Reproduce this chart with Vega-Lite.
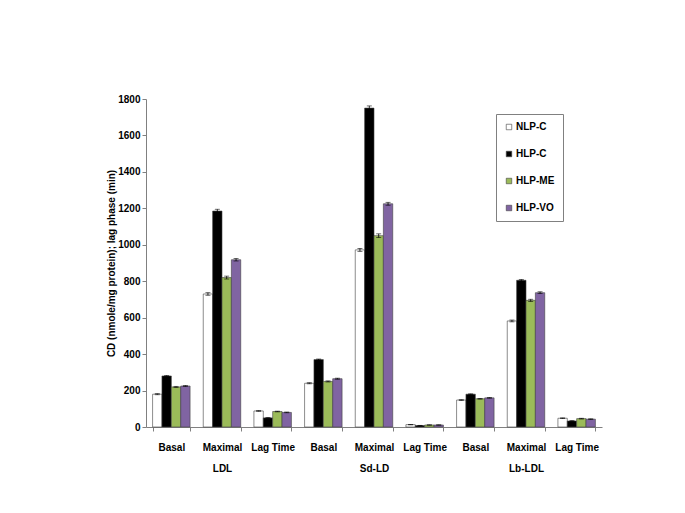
{
  "$schema": "https://vega.github.io/schema/vega-lite/v6.json",
  "autosize": "none",
  "width": 456,
  "height": 328,
  "padding": {"left": 146, "top": 99, "right": 83, "bottom": 86},
  "background": "white",
  "config": {
    "view": {"stroke": null},
    "font": "Liberation Sans",
    "axis": {"labelFont": "Liberation Sans", "labelFontWeight": "bold", "labelFontSize": 10, "labelColor": "#000", "titleFont": "Liberation Sans", "titleFontWeight": "bold", "titleFontSize": 10, "titleColor": "#000", "domainColor": "#808080", "tickColor": "#808080", "grid": false},
    "axisY": {"labelOverlap": false, "values": [0, 200, 400, 600, 800, 1000, 1200, 1400, 1600, 1800], "format": "d", "tickSize": 4, "labelPadding": 2, "titlePadding": 1}
  },
  "data": {"values": [
    {"key": "LDL|Basal", "group": "NLP-C", "value": 180, "lo": 177, "hi": 183},
    {"key": "LDL|Basal", "group": "HLP-C", "value": 280, "lo": 277, "hi": 283},
    {"key": "LDL|Basal", "group": "HLP-ME", "value": 220, "lo": 217, "hi": 223},
    {"key": "LDL|Basal", "group": "HLP-VO", "value": 225, "lo": 222, "hi": 228},
    {"key": "LDL|Maximal", "group": "NLP-C", "value": 730, "lo": 723, "hi": 737},
    {"key": "LDL|Maximal", "group": "HLP-C", "value": 1185, "lo": 1175, "hi": 1195},
    {"key": "LDL|Maximal", "group": "HLP-ME", "value": 820, "lo": 812, "hi": 828},
    {"key": "LDL|Maximal", "group": "HLP-VO", "value": 918, "lo": 911, "hi": 925},
    {"key": "LDL|Lag Time", "group": "NLP-C", "value": 88, "lo": 86, "hi": 90},
    {"key": "LDL|Lag Time", "group": "HLP-C", "value": 50, "lo": 48, "hi": 52},
    {"key": "LDL|Lag Time", "group": "HLP-ME", "value": 85, "lo": 83, "hi": 87},
    {"key": "LDL|Lag Time", "group": "HLP-VO", "value": 80, "lo": 78, "hi": 82},
    {"key": "Sd-LD|Basal", "group": "NLP-C", "value": 240, "lo": 237, "hi": 243},
    {"key": "Sd-LD|Basal", "group": "HLP-C", "value": 370, "lo": 367, "hi": 373},
    {"key": "Sd-LD|Basal", "group": "HLP-ME", "value": 250, "lo": 247, "hi": 253},
    {"key": "Sd-LD|Basal", "group": "HLP-VO", "value": 265, "lo": 262, "hi": 268},
    {"key": "Sd-LD|Maximal", "group": "NLP-C", "value": 972, "lo": 964, "hi": 980},
    {"key": "Sd-LD|Maximal", "group": "HLP-C", "value": 1750, "lo": 1738, "hi": 1762},
    {"key": "Sd-LD|Maximal", "group": "HLP-ME", "value": 1050, "lo": 1040, "hi": 1060},
    {"key": "Sd-LD|Maximal", "group": "HLP-VO", "value": 1225, "lo": 1217, "hi": 1233},
    {"key": "Sd-LD|Lag Time", "group": "NLP-C", "value": 13, "lo": 12, "hi": 14},
    {"key": "Sd-LD|Lag Time", "group": "HLP-C", "value": 8, "lo": 7, "hi": 9},
    {"key": "Sd-LD|Lag Time", "group": "HLP-ME", "value": 11, "lo": 10, "hi": 12},
    {"key": "Sd-LD|Lag Time", "group": "HLP-VO", "value": 11, "lo": 10, "hi": 12},
    {"key": "Lb-LDL|Basal", "group": "NLP-C", "value": 148, "lo": 146, "hi": 150},
    {"key": "Lb-LDL|Basal", "group": "HLP-C", "value": 180, "lo": 178, "hi": 182},
    {"key": "Lb-LDL|Basal", "group": "HLP-ME", "value": 155, "lo": 153, "hi": 157},
    {"key": "Lb-LDL|Basal", "group": "HLP-VO", "value": 160, "lo": 158, "hi": 162},
    {"key": "Lb-LDL|Maximal", "group": "NLP-C", "value": 582, "lo": 577, "hi": 587},
    {"key": "Lb-LDL|Maximal", "group": "HLP-C", "value": 805, "lo": 800, "hi": 810},
    {"key": "Lb-LDL|Maximal", "group": "HLP-ME", "value": 695, "lo": 689, "hi": 701},
    {"key": "Lb-LDL|Maximal", "group": "HLP-VO", "value": 737, "lo": 732, "hi": 742},
    {"key": "Lb-LDL|Lag Time", "group": "NLP-C", "value": 48, "lo": 46, "hi": 50},
    {"key": "Lb-LDL|Lag Time", "group": "HLP-C", "value": 33, "lo": 31, "hi": 35},
    {"key": "Lb-LDL|Lag Time", "group": "HLP-ME", "value": 46, "lo": 44, "hi": 48},
    {"key": "Lb-LDL|Lag Time", "group": "HLP-VO", "value": 43, "lo": 41, "hi": 45}
  ]},
  "encoding": {
    "x": {
      "field": "key", "type": "nominal",
      "sort": ["LDL|Basal", "LDL|Maximal", "LDL|Lag Time", "Sd-LD|Basal", "Sd-LD|Maximal", "Sd-LD|Lag Time", "Lb-LDL|Basal", "Lb-LDL|Maximal", "Lb-LDL|Lag Time"],
      "scale": {"paddingInner": 0.26, "paddingOuter": 0.13},
      "axis": {
        "title": null, "labelAngle": 0, "tickBand": "extent", "tickSize": 4, "labelPadding": 11,
        "labelBaseline": "top", "labelLineHeight": 21,
        "labelExpr": "split(datum.value,'|')[1] == 'Maximal' ? [split(datum.value,'|')[1], split(datum.value,'|')[0]] : split(datum.value,'|')[1]"
      }
    },
    "xOffset": {"field": "group", "type": "nominal", "sort": ["NLP-C", "HLP-C", "HLP-ME", "HLP-VO"]}
  },
  "layer": [
    {
      "mark": {"type": "bar", "stroke": "#404040", "strokeWidth": 0.6},
      "encoding": {
        "y": {"field": "value", "type": "quantitative", "scale": {"domain": [0, 1800], "nice": false},
          "axis": {"title": "CD (nmole/mg protein); lag phase (min)"}},
        "fill": {"field": "group", "type": "nominal", "sort": ["NLP-C", "HLP-C", "HLP-ME", "HLP-VO"],
          "scale": {"domain": ["NLP-C", "HLP-C", "HLP-ME", "HLP-VO"], "range": ["#ffffff", "#000000", "#9bbb59", "#8064a2"]},
          "legend": {"title": null, "orient": "none", "legendX": 350, "legendY": 15, "symbolType": "square", "symbolSize": 30, "symbolStrokeColor": "#404040", "symbolStrokeWidth": 0.6, "labelFont": "Liberation Sans", "labelFontWeight": "bold", "labelFontSize": 10, "labelColor": "#000", "rowPadding": 17, "padding": 8, "strokeColor": "#808080", "fillColor": "#ffffff", "labelOffset": 2, "columnPadding": 10}}
      }
    },
    {
      "mark": {"type": "rule", "color": "#000", "strokeWidth": 0.8},
      "encoding": {"y": {"field": "lo", "type": "quantitative", "axis": {"title": "CD (nmole/mg protein); lag phase (min)"}}, "y2": {"field": "hi"}}
    },
    {
      "mark": {"type": "tick", "color": "#000", "size": 5, "thickness": 0.8},
      "encoding": {"y": {"field": "hi", "type": "quantitative", "axis": {"title": "CD (nmole/mg protein); lag phase (min)"}}}
    },
    {
      "mark": {"type": "tick", "color": "#000", "size": 5, "thickness": 0.8},
      "encoding": {"y": {"field": "lo", "type": "quantitative", "axis": {"title": "CD (nmole/mg protein); lag phase (min)"}}}
    }
  ]
}
